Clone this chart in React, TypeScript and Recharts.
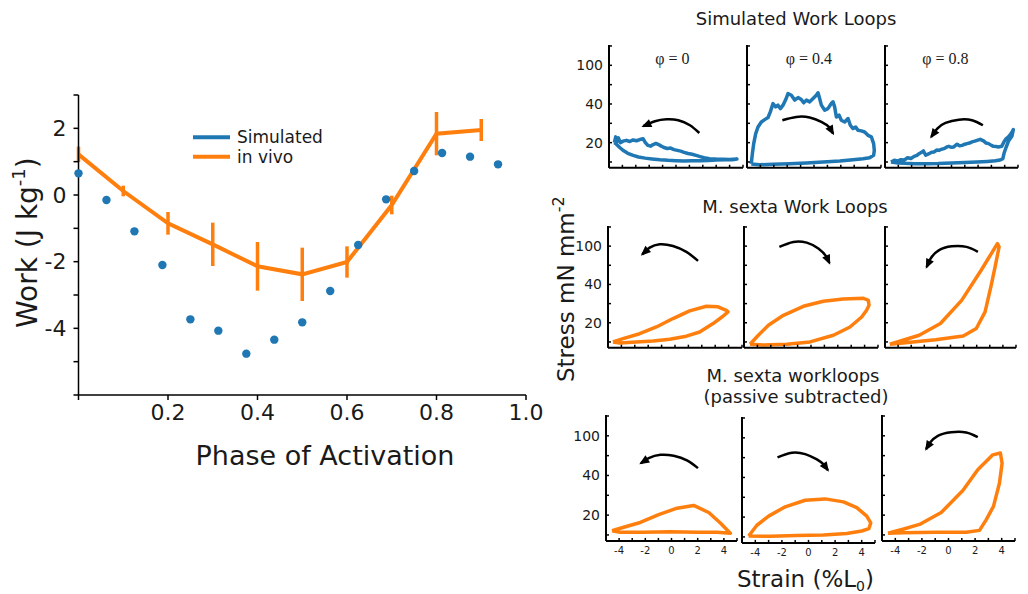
import React from "react"
import { ComposedChart, LineChart, Line, Scatter, XAxis, YAxis, ErrorBar } from "recharts"

// ---- left panel: work vs phase of activation ----
const simPhase = [0, 0.0625, 0.125, 0.1875, 0.25, 0.3125, 0.375, 0.4375, 0.5, 0.5625, 0.625, 0.6875, 0.75, 0.8125, 0.875, 0.9375]
const simWork = [0.65, -0.15, -1.09, -2.1, -3.73, -4.07, -4.76, -4.34, -3.82, -2.88, -1.5, -0.13, 0.72, 1.26, 1.15, 0.92]

const vivoPhase = [0, 0.1, 0.2, 0.3, 0.4, 0.5, 0.6, 0.7, 0.8, 0.9]
const vivoWork = [1.22, 0.12, -0.85, -1.48, -2.14, -2.38, -2.01, -0.3, 1.84, 1.95]
const vivoErr = [0.23, 0.16, 0.34, 0.65, 0.73, 0.8, 0.47, 0.28, 0.65, 0.33]

const phaseTicks = [0, 0.2, 0.4, 0.6, 0.8, 1.0]
const workTicks = [-6, -5, -4, -3, -2, -1, 0, 1, 2, 3]
const workLabels = [2, 0, -2, -4]

const simulated = simPhase.map((x, i) => ({ x, y: simWork[i] }))
const inVivo = vivoPhase.map((x, i) => ({ x, y: vivoWork[i], err: vivoErr[i] }))

// ---- right panels: work loops (strain %L0, stress in tick steps) ----
const strainTicks = [-5, -4, -3, -2, -1, 0, 1, 2, 3, 4, 5]
const strainLabels = [-4, -2, 0, 2, 4]
const stressTicks = [0, 1, 2, 3, 4, 5, 6]
const stressLabels: Record<number, string> = { 1: "20", 3: "40", 5: "100" }
const STRESS_MIN = -0.3
const STRESS_MAX = 6.05

const simLoop0 = [
  [-4.6, 1.0], [-4.5, 1.3], [-4.4, 1.05], [-4.3, 1.25], [-4.15, 1.0], [-3.95, 1.08], [-3.7, 1.12], [-3.45, 1.06],
  [-3.2, 1.14], [-2.95, 1.1], [-2.7, 1.16], [-2.45, 1.2], [-2.3, 1.02], [-2.1, 0.86], [-1.9, 0.82], [-1.7, 0.9],
  [-1.5, 0.96], [-1.3, 0.9], [-1.1, 0.82], [-0.9, 0.75], [-0.65, 0.7], [-0.4, 0.72], [-0.15, 0.64], [0.1, 0.6],
  [0.35, 0.56], [0.6, 0.5], [0.9, 0.44], [1.2, 0.4], [1.5, 0.34], [1.8, 0.28], [2.1, 0.22], [2.5, 0.17],
  [3.0, 0.15], [3.5, 0.14], [4.0, 0.13], [4.55, 0.15],
  [4.2, 0.12], [3.6, 0.11], [3.0, 0.1], [2.4, 0.08], [1.8, 0.07], [1.2, 0.06], [0.6, 0.05], [0.0, 0.07],
  [-0.6, 0.09], [-1.2, 0.12], [-1.8, 0.16], [-2.3, 0.2], [-2.8, 0.26], [-3.2, 0.34], [-3.6, 0.45], [-3.9, 0.58],
  [-4.2, 0.75], [-4.45, 0.92], [-4.6, 1.0],
]
const simLoop04 = [
  [-4.68, -0.1], [-4.6, 0.43], [-4.5, 0.95], [-4.35, 1.47], [-4.18, 1.81], [-3.93, 2.07], [-3.68, 2.19], [-3.43, 2.3],
  [-3.26, 2.59], [-3.06, 3.02], [-2.86, 2.85], [-2.69, 2.94], [-2.51, 2.76], [-2.31, 2.94], [-2.11, 3.23], [-1.94, 3.54],
  [-1.69, 3.45], [-1.44, 3.2], [-1.19, 3.33], [-0.95, 3.23], [-0.77, 3.06], [-0.57, 3.2], [-0.32, 3.11], [-0.07, 3.28],
  [0.17, 3.45], [0.3, 3.58], [0.42, 3.28], [0.55, 2.94], [0.8, 2.68], [1.04, 2.76], [1.29, 3.02], [1.42, 3.11],
  [1.54, 2.85], [1.67, 2.33], [1.87, 2.42], [2.04, 2.16], [2.29, 2.07], [2.54, 2.25], [2.71, 1.9], [2.91, 1.73],
  [3.11, 1.81], [3.28, 1.64], [3.53, 1.61], [3.78, 1.55], [4.03, 1.38], [4.28, 1.3], [4.45, 0.95], [4.5, 0.6],
  [4.45, 0.35], [4.15, 0.22], [3.66, 0.17], [2.91, 0.12], [1.92, 0.05], [0.67, 0.0], [-0.57, -0.05], [-1.82, -0.09],
  [-3.06, -0.12], [-4.05, -0.14], [-4.68, -0.1],
]
const simLoop08 = [
  [-4.55, 0.0], [-4.3, 0.09], [-4.05, 0.05], [-3.81, 0.12], [-3.55, 0.1], [-3.31, 0.22], [-3.05, 0.18], [-2.81, 0.29],
  [-2.6, 0.34], [-2.44, 0.43], [-2.25, 0.5], [-2.11, 0.57], [-1.94, 0.35], [-1.69, 0.43], [-1.5, 0.5], [-1.32, 0.52],
  [-1.1, 0.62], [-0.95, 0.6], [-0.75, 0.66], [-0.57, 0.69], [-0.35, 0.78], [-0.2, 0.81], [0.0, 0.76], [0.17, 0.78],
  [0.42, 0.92], [0.6, 0.84], [0.8, 0.86], [1.0, 0.92], [1.17, 0.95], [1.35, 0.98], [1.54, 1.04], [1.75, 1.08],
  [1.92, 1.12], [2.16, 1.17], [2.41, 1.09], [2.6, 0.98], [2.79, 0.95], [3.0, 0.86], [3.16, 0.81], [3.35, 0.8],
  [3.53, 0.78], [3.78, 0.81], [3.95, 1.05], [4.1, 1.2], [4.28, 1.3], [4.45, 1.45], [4.6, 1.6], [4.65, 1.68],
  [4.55, 1.35], [4.3, 1.1], [4.1, 0.75], [3.95, 0.45], [3.86, 0.17], [3.66, 0.1], [3.3, 0.06], [2.7, 0.03],
  [1.9, 0.0], [1.0, -0.03], [0.0, -0.05], [-1.0, -0.08], [-1.9, -0.09], [-2.8, -0.09], [-3.5, -0.07], [-4.0, -0.05],
  [-4.55, 0.0],
]

const sextaLoop0 = [
  [-4.63, 0.0], [-3.88, 0.17], [-2.64, 0.43], [-1.39, 0.78], [-0.15, 1.22], [1.09, 1.62], [2.34, 1.86], [3.21, 1.83],
  [3.83, 1.65], [3.96, 1.57], [3.58, 1.34], [2.84, 0.96], [1.84, 0.52], [0.85, 0.3], [-0.4, 0.14], [-1.64, 0.05],
  [-2.89, 0.0], [-4.13, -0.05], [-4.63, 0.0],
]
const sextaLoop04 = [
  [-4.55, -0.12], [-3.93, 0.35], [-3.18, 0.87], [-2.06, 1.39], [-0.57, 1.86], [0.92, 2.12], [2.41, 2.24], [3.91, 2.28],
  [4.28, 2.17], [4.33, 1.91], [4.15, 1.65], [3.78, 1.3], [2.91, 0.78], [1.67, 0.35], [-0.07, 0.0], [-1.82, -0.12],
  [-3.56, -0.16], [-4.55, -0.12],
]
const sextaLoop08 = [
  [-4.63, -0.12], [-3.63, 0.09], [-2.39, 0.35], [-0.77, 0.96], [0.85, 2.17], [2.34, 3.74], [3.58, 5.13], [3.71, 4.96],
  [3.4, 3.9], [3.08, 2.87], [2.64, 1.57], [1.97, 0.7], [0.97, 0.31], [-1.14, 0.12], [-3.63, -0.05], [-4.63, -0.12],
]

const passiveLoop0 = [
  [-4.54, 0.21], [-3.65, 0.39], [-2.38, 0.63], [-0.98, 1.02], [0.42, 1.35], [1.69, 1.49], [2.84, 1.13], [3.73, 0.6],
  [4.49, 0.09], [3.47, 0.13], [1.95, 0.14], [-0.09, 0.16], [-2.12, 0.14], [-3.91, 0.13], [-4.54, 0.21],
]
const passiveLoop04 = [
  [-4.5, 0.05], [-3.88, 0.59], [-3.0, 1.05], [-1.75, 1.52], [-0.25, 1.85], [1.25, 1.92], [2.63, 1.77], [3.63, 1.48],
  [4.38, 1.05], [4.68, 0.71], [4.55, 0.42], [4.0, 0.3], [2.88, 0.17], [1.13, 0.1], [-0.88, 0.07], [-2.88, 0.03],
  [-4.5, 0.05],
]
const passiveLoop08 = [
  [-4.55, 0.09], [-3.43, 0.29], [-2.18, 0.53], [-0.55, 1.13], [1.08, 2.24], [2.2, 3.29], [3.33, 4.04], [3.9, 4.13],
  [4.03, 3.62], [3.83, 2.61], [3.38, 1.44], [2.83, 0.76], [2.33, 0.23], [1.33, 0.14], [-0.93, 0.13], [-3.43, 0.11],
  [-4.55, 0.09],
]

// direction arrows drawn inside each loop panel
const simArrow0 = [[1.74, 1.5], [1.04, 1.9], [0.17, 2.16], [-0.7, 2.21], [-1.57, 2.11], [-2.44, 1.85]]
const simArrow04 = [[-2.36, 2.16], [-1.32, 2.33], [-0.32, 2.3], [0.55, 2.07], [1.17, 1.78], [1.42, 1.47]]
const simArrow08 = [[2.36, 1.9], [1.54, 2.16], [0.55, 2.19], [-0.45, 2.02], [-1.07, 1.73], [-1.52, 1.3]]
const sextaArrow0 = [[1.72, 4.23], [0.85, 4.7], [-0.15, 5.01], [-1.14, 5.1], [-1.89, 4.92], [-2.44, 4.57]]
const sextaArrow04 = [[-2.36, 4.96], [-1.32, 5.22], [-0.32, 5.18], [0.55, 4.87], [1.17, 4.43], [1.37, 4.12]]
const sextaArrow08 = [[2.09, 4.7], [1.22, 4.96], [0.1, 4.99], [-0.9, 4.78], [-1.52, 4.35], [-1.82, 3.91]]
const passiveArrow0 = [[2.02, 3.37], [1.18, 3.76], [0.17, 3.99], [-0.85, 4.04], [-1.74, 3.87], [-2.33, 3.62]]
const passiveArrow04 = [[-2.33, 4.01], [-1.25, 4.25], [-0.25, 4.18], [0.63, 3.91], [1.18, 3.63], [1.45, 3.37]]
const passiveArrow08 = [[2.2, 4.93], [1.33, 5.17], [0.2, 5.18], [-0.8, 5.0], [-1.38, 4.66], [-1.68, 4.33]]

const BLUE = "#1f77b4"
const ORANGE = "#ff7f0e"
const INK = "#1a1a1a"

type Pt = { x: number; y: number }
const pts = (a: number[][]): Pt[] => a.map(([x, y]) => ({ x, y }))

// plot boxes: [left, top, width, height]
const boxes = {
  sim: [[609, 44.7, 134, 122.8], [747.3, 44.7, 134, 122.8], [885.3, 44.7, 133, 122.8]],
  sexta: [[608.3, 226, 134, 121.7], [744, 226, 134, 121.7], [885, 226, 131, 121.7]],
  passive: [[605.7, 415.2, 131, 125.9], [741.7, 417, 133, 125.9], [882.3, 415.2, 133, 125.9]],
}

type PanelProps = {
  box: number[]
  loop: number[][]
  arrow: number[][]
  color: string
  showY: boolean
  showX: boolean
}

function LoopPanel({ box, loop, arrow, color, showY, showX }: PanelProps) {
  const [left, top, w, h] = box
  const yw = 40
  const mt = 4
  const mr = 6
  const xh = 22
  const kx = w / 10
  const ky = h / (STRESS_MAX - STRESS_MIN)
  const arrowPts = pts(arrow)
  const n = arrowPts.length
  const ang =
    (Math.atan2(-(arrowPts[n - 1].y - arrowPts[n - 2].y) * ky, (arrowPts[n - 1].x - arrowPts[n - 2].x) * kx) * 180) /
    Math.PI

  const head = (p: any) => {
    if (p.index !== n - 1) return <g key={`a${p.index}`} />
    return (
      <path
        key={`a${p.index}`}
        d="M2,0 L-8,-4.2 L-8,4.2 Z"
        transform={`translate(${p.cx},${p.cy}) rotate(${ang})`}
        fill="#000"
      />
    )
  }

  return (
    <div style={{ position: "absolute", left: left - yw, top: top - mt }}>
      <LineChart width={yw + w + mr} height={mt + h + xh} margin={{ top: mt, right: mr, bottom: 0, left: 0 }}>
        <XAxis
          type="number"
          dataKey="x"
          domain={[-5, 5]}
          ticks={strainTicks}
          interval={0}
          allowDataOverflow
          height={xh}
          tickSize={-3}
          tickMargin={9}
          tickFormatter={(v: number) => (showX && strainLabels.includes(v) ? String(v) : "")}
          axisLine={{ stroke: "#000", strokeWidth: 2 }}
          tickLine={{ stroke: "#000", strokeWidth: 1.5 }}
          tick={{ fontSize: 10, fill: INK }}
        />
        <YAxis
          type="number"
          domain={[STRESS_MIN, STRESS_MAX]}
          ticks={stressTicks}
          interval={0}
          allowDataOverflow
          width={yw}
          tickSize={-3}
          tickMargin={9}
          tickFormatter={(v: number) => (showY ? stressLabels[v] ?? "" : "")}
          axisLine={{ stroke: "#000", strokeWidth: 2 }}
          tickLine={{ stroke: "#000", strokeWidth: 1.5 }}
          tick={{ fontSize: 14, fill: INK }}
        />
        <Line
          data={pts(loop)}
          dataKey="y"
          type="linear"
          stroke={color}
          strokeWidth={3.5}
          strokeLinejoin="round"
          dot={false}
          isAnimationActive={false}
        />
        <Line
          data={arrowPts}
          dataKey="y"
          type="natural"
          stroke="#000"
          strokeWidth={2.5}
          dot={head}
          activeDot={false}
          isAnimationActive={false}
        />
      </LineChart>
    </div>
  )
}

const rows = [
  { key: "sim", color: BLUE, loops: [simLoop0, simLoop04, simLoop08], arrows: [simArrow0, simArrow04, simArrow08] },
  { key: "sexta", color: ORANGE, loops: [sextaLoop0, sextaLoop04, sextaLoop08], arrows: [sextaArrow0, sextaArrow04, sextaArrow08] },
  { key: "passive", color: ORANGE, loops: [passiveLoop0, passiveLoop04, passiveLoop08], arrows: [passiveArrow0, passiveArrow04, passiveArrow08] },
] as const

const dotShape = (p: any) => <circle cx={p.cx} cy={p.cy} r={4.2} fill={BLUE} />

export default function App() {
  return (
    <div
      style={{
        position: "absolute",
        left: 0,
        top: 0,
        width: 1028,
        height: 594,
        background: "#fff",
        fontFamily: "'DejaVu Sans', Verdana, sans-serif",
        overflow: "hidden",
      }}
    >
      <div style={{ position: "absolute", left: 0, top: 0 }}>
        <ComposedChart width={560} height={440} margin={{ top: 95, right: 34, bottom: 15, left: 0 }}>
          <XAxis
            type="number"
            dataKey="x"
            domain={[0, 1]}
            ticks={phaseTicks}
            interval={0}
            height={30}
            tickSize={5}
            tickMargin={4}
            tickFormatter={(v: number) => (v === 0 ? "" : v.toFixed(1))}
            axisLine={{ stroke: "#000", strokeWidth: 1.5 }}
            tickLine={{ stroke: "#000", strokeWidth: 1.5 }}
            tick={{ fontSize: 22, fill: INK }}
          />
          <YAxis
            type="number"
            domain={[-6, 3]}
            ticks={workTicks}
            interval={0}
            width={78.5}
            tickSize={5}
            tickMargin={7}
            tickFormatter={(v: number) => (workLabels.includes(v) ? String(v) : "")}
            axisLine={{ stroke: "#000", strokeWidth: 1.5 }}
            tickLine={{ stroke: "#000", strokeWidth: 1.5 }}
            tick={{ fontSize: 22, fill: INK }}
          />
          <Scatter data={simulated} dataKey="y" shape={dotShape} isAnimationActive={false} />
          <Line
            data={inVivo}
            dataKey="y"
            type="linear"
            stroke={ORANGE}
            strokeWidth={4}
            dot={false}
            activeDot={false}
            isAnimationActive={false}
          >
            <ErrorBar dataKey="err" direction="y" width={0} stroke={ORANGE} strokeWidth={3.5} />
          </Line>
        </ComposedChart>
      </div>

      {rows.map((r) =>
        r.loops.map((loop, i) => (
          <LoopPanel
            key={`${r.key}${i}`}
            box={boxes[r.key][i]}
            loop={loop}
            arrow={r.arrows[i]}
            color={r.color}
            showY={i === 0}
            showX={r.key === "passive"}
          />
        ))
      )}

      <svg width={1028} height={594} style={{ position: "absolute", left: 0, top: 0, pointerEvents: "none" }}>
        <g fill={INK}>
          <text transform="translate(37,328) rotate(-90)" fontSize={28}>
            Work (J kg<tspan dy={-12} fontSize={18}>-1</tspan>
            <tspan dy={12}>)</tspan>
          </text>
          <text x={325} y={465} textAnchor="middle" fontSize={27}>
            Phase of Activation
          </text>

          <line x1={193} x2={230} y1={137.3} y2={137.3} stroke={BLUE} strokeWidth={4} />
          <line x1={193} x2={230} y1={156.7} y2={156.7} stroke={ORANGE} strokeWidth={4} />
          <text x={237} y={143.3} fontSize={17}>
            Simulated
          </text>
          <text x={237} y={162.7} fontSize={17}>
            in vivo
          </text>

          <text x={796} y={25} textAnchor="middle" fontSize={18}>
            Simulated Work Loops
          </text>
          <text x={795} y={213} textAnchor="middle" fontSize={18}>
            M. sexta Work Loops
          </text>
          <text x={793} y={381.5} textAnchor="middle" fontSize={18}>
            M. sexta workloops
          </text>
          <text x={796} y={403} textAnchor="middle" fontSize={18}>
            (passive subtracted)
          </text>

          <g fontFamily="'Liberation Serif', serif" fontSize={16}>
            <text x={672.5} y={64} textAnchor="middle">φ = 0</text>
            <text x={809} y={64} textAnchor="middle">φ = 0.4</text>
            <text x={945.5} y={64} textAnchor="middle">φ = 0.8</text>
          </g>

          <text transform="translate(574,382) rotate(-90)" fontSize={23}>
            Stress mN mm<tspan dy={-10} fontSize={16}>-2</tspan>
          </text>
          <text x={737} y={587} fontSize={23}>
            Strain (%L<tspan dy={4} fontSize={14}>0</tspan>
            <tspan dy={-4}>)</tspan>
          </text>
        </g>
      </svg>
    </div>
  )
}
